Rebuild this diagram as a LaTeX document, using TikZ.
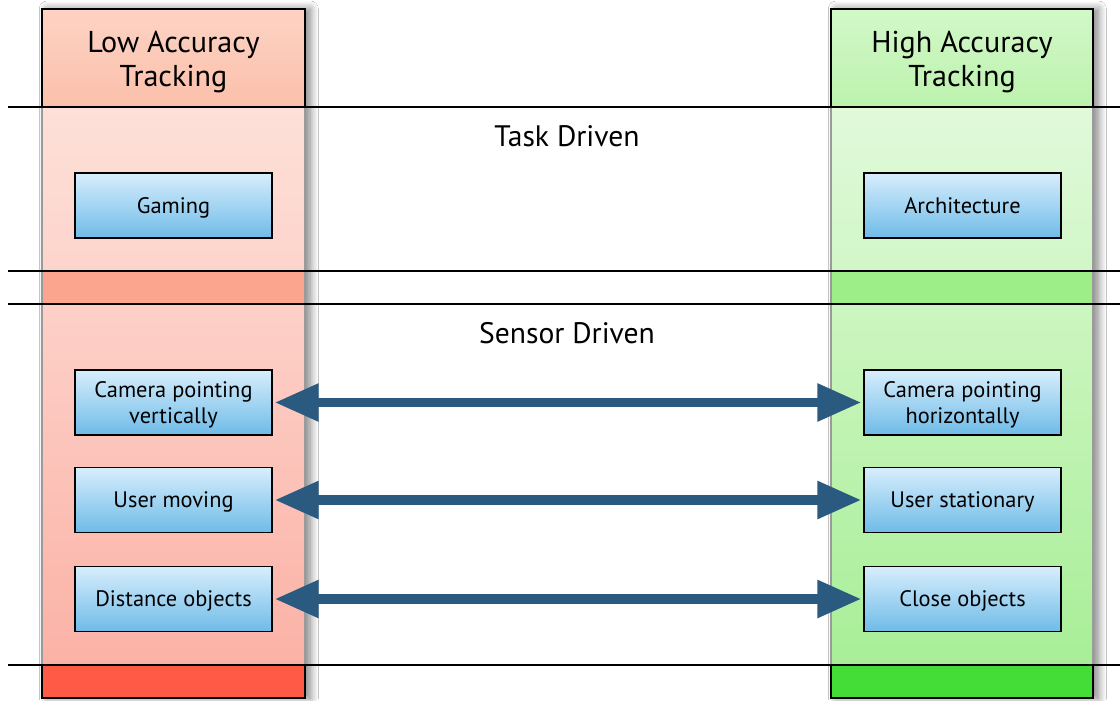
\documentclass[tikz,border=0pt]{standalone}
\usepackage{fontspec}
\setmainfont{PT Sans}
\usetikzlibrary{shadows.blur,arrows.meta}

\definecolor{lohead1}{HTML}{FDD3C4}
\definecolor{lohead2}{HTML}{FBC0AA}
\definecolor{lotask1}{HTML}{FDE0D8}
\definecolor{lotask2}{HTML}{FDD4CC}
\definecolor{loband}{HTML}{FCA58E}
\definecolor{losens1}{HTML}{FDD0C8}
\definecolor{losens2}{HTML}{FBB2A6}
\definecolor{lofoot}{HTML}{FF5A45}
\definecolor{hihead1}{HTML}{D2F8C8}
\definecolor{hihead2}{HTML}{BDF2AE}
\definecolor{hitask1}{HTML}{E0FADA}
\definecolor{hitask2}{HTML}{D2F6C8}
\definecolor{hiband}{HTML}{9DEE88}
\definecolor{hisens1}{HTML}{CCF6C0}
\definecolor{hisens2}{HTML}{A8EE98}
\definecolor{hifoot}{HTML}{44DD38}
\definecolor{boxtop}{HTML}{D8EEFC}
\definecolor{boxbot}{HTML}{6EBBE8}
\definecolor{arrowblue}{HTML}{2A5A80}
\definecolor{colborder}{HTML}{9A9A9A}

\tikzset{
  colshadow/.style={fill=white,blur shadow={shadow xshift=4pt,shadow yshift=0pt,shadow blur steps=12,shadow blur radius=6pt,shadow opacity=50}},
  lane/.style={line width=1.1pt,black},
  itembox/.style={draw=black,line width=1.1pt,top color=boxtop,bottom color=boxbot,
    minimum width=147.75pt,minimum height=49pt,inner sep=0pt,align=center,
    text depth=0pt,font=\fontsize{16.8}{19}\selectfont},
  headtext/.style={align=center,font=\fontsize{22.6}{26}\selectfont},
  lanetitle/.style={font=\fontsize{22.2}{26}\selectfont},
  bigarrow/.style={draw=arrowblue,line width=6.8pt,
    {Triangle[length=33pt,width=27pt]}-{Triangle[length=33pt,width=27pt]},shorten <=1.5pt,shorten >=1.5pt}
}

\begin{document}
\begin{tikzpicture}[x=0.75pt,y=-0.75pt]
\useasboundingbox (0,0) rectangle (1120,700);
\fill[white] (0,0) rectangle (1120,700);

% soft shadows behind both columns
\path[colshadow] (42,9) rectangle (305,698);
\path[colshadow] (831,9) rectangle (1093,698);

% low accuracy column
\path[top color=lohead1,bottom color=lohead2] (42,9) rectangle (305,107);
\path[top color=lotask1,bottom color=lotask2] (42,107) rectangle (305,271);
\fill[loband] (42,271) rectangle (305,304);
\path[top color=losens1,bottom color=losens2] (42,304) rectangle (305,665);
\draw[colborder,line width=0.9pt] (42,107) -- (42,665) (305,107) -- (305,665);
\draw[black,line width=1.1pt] (42,107) -- (42,9) -- (305,9) -- (305,107);
\draw[black,line width=1.1pt,fill=lofoot] (42,665) rectangle (305,698);

% high accuracy column
\path[top color=hihead1,bottom color=hihead2] (831,9) rectangle (1093,107);
\path[top color=hitask1,bottom color=hitask2] (831,107) rectangle (1093,271);
\fill[hiband] (831,271) rectangle (1093,304);
\path[top color=hisens1,bottom color=hisens2] (831,304) rectangle (1093,665);
\draw[colborder,line width=0.9pt] (831,107) -- (831,665) (1093,107) -- (1093,665);
\draw[black,line width=1.1pt] (831,107) -- (831,9) -- (1093,9) -- (1093,107);
\draw[black,line width=1.1pt,fill=hifoot] (831,665) rectangle (1093,698);

% lane separators
\draw[lane] (8,107) -- (1120,107);
\draw[lane] (8,271) -- (1120,271);
\draw[lane] (8,304) -- (1120,304);
\draw[lane] (8,665) -- (1120,665);

% headings
\node[headtext] (lowhead) at (173.5,62) {Low Accuracy\\Tracking};
\node[headtext] (highhead) at (962,62) {High Accuracy\\Tracking};
\node[lanetitle] (task) at (567,136) {Task Driven};
\node[lanetitle] (sensor) at (567,333) {Sensor Driven};

% items
\node[itembox] (gaming) at (173.5,205.5) {Gaming};
\node[itembox] (arch) at (962.5,205.5) {Architecture};
\node[itembox] (camv) at (173.5,402.5) {Camera pointing\\vertically};
\node[itembox] (camh) at (962.5,402.5) {Camera pointing\\horizontally};
\node[itembox] (umove) at (173.5,500) {User moving};
\node[itembox] (ustat) at (962.5,500) {User stationary};
\node[itembox] (dist) at (173.5,599) {Distance objects};
\node[itembox] (close) at (962.5,599) {Close objects};

% correspondences
\draw[bigarrow] (camv) -- (camh);
\draw[bigarrow] (umove) -- (ustat);
\draw[bigarrow] (dist) -- (close);
\end{tikzpicture}
\end{document}
